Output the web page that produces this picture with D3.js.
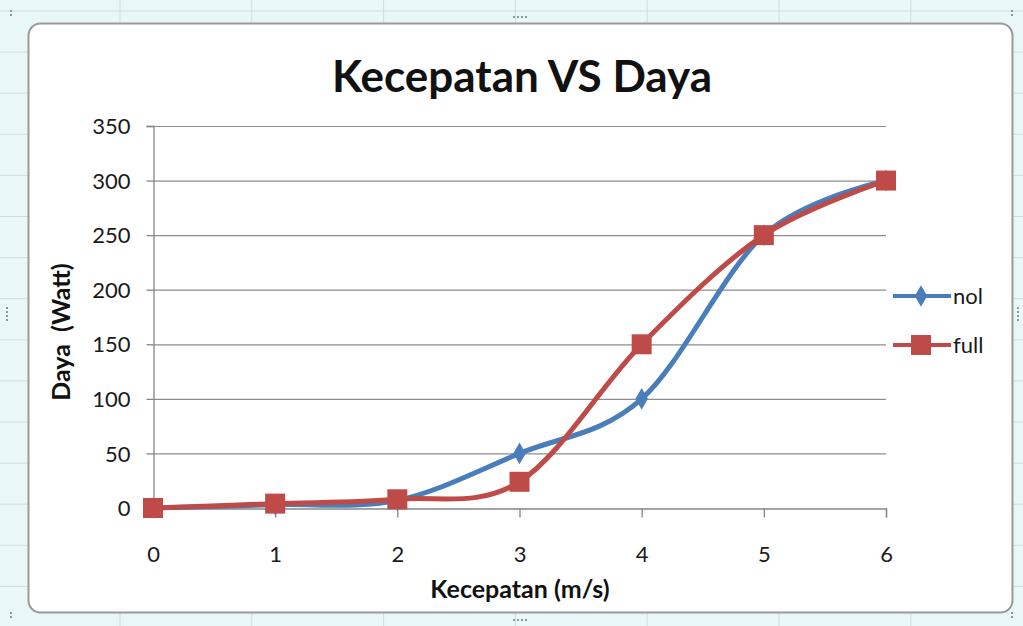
<!DOCTYPE html>
<html>
<head>
<meta charset="utf-8">
<script src="https://cdn.jsdelivr.net/npm/d3@7"></script>
<style>
  body { margin: 0; background: #e9f6f8; }
  svg { display: block; font-family: Lato, "Open Sans", sans-serif; }
  text { white-space: pre; }
</style>
</head>
<body>
<svg id="chart" width="1023" height="626"></svg>
<script>
// data
const speeds = [0, 1, 2, 3, 4, 5, 6];
const nolValues = [0, 3, 7, 50, 100, 250, 300];
const fullValues = [0, 4, 8, 24, 150, 250, 300];
const yTicks = [0, 50, 100, 150, 200, 250, 300, 350];
const seriesNames = ['nol', 'full'];

const W = 1023, H = 626;
const svg = d3.select('#chart');

// spreadsheet behind the chart
const bg = svg.append('g');
bg.append('rect').attr('width', W).attr('height', H).attr('fill', '#eaf7f9');
d3.range(120, W, 131.8).forEach(x => {
    bg.append('line').attr('x1', x).attr('x2', x).attr('y1', 0).attr('y2', H)
        .attr('stroke', '#cadee1');
});
d3.range(11, H, 41.1).forEach(y => {
    bg.append('line').attr('x1', 0).attr('x2', W).attr('y1', y).attr('y2', y)
        .attr('stroke', '#cadee1');
});

// chart area
svg.append('rect')
    .attr('x', 28.5).attr('y', 23.5).attr('width', 984).attr('height', 589)
    .attr('rx', 12).attr('fill', '#fff')
    .attr('stroke', '#9a9a9a').attr('stroke-width', 2);

// resize handles
const handles = [[12, 16], [W - 10, 16], [12, H - 8], [W - 10, H - 8], [521, 17], [521, H - 6], [8, 313], [W - 4, 313]];
handles.forEach(([x, y], i) => {
    const horiz = i >= 4 && i < 6;
    const n = i < 4 ? 2 : 4;
    d3.range(n).forEach(k => {
        svg.append('rect')
            .attr('x', horiz ? x - 8 + k * 4 : x - 2)
            .attr('y', horiz ? y - 1 : y - 6 + k * 4)
            .attr('width', 2).attr('height', 2).attr('fill', '#8a9a9c');
    });
});

const x = d3.scaleLinear().domain([0, 6]).range([153, 886]);
const y = d3.scaleLinear().domain([0, 350]).range([508, 126]);

// gridlines
svg.append('g').selectAll('line')
    .data(yTicks.filter(d => d > 0))
    .join('line')
    .attr('x1', x(0)).attr('x2', x(6))
    .attr('y1', d => y(d) + 0.5).attr('y2', d => y(d) + 0.5)
    .attr('stroke', '#8c8c8c').attr('stroke-width', 1.2);

// axes
const yAxis = svg.append('g')
    .attr('transform', `translate(${x(0) + 0.5},0)`)
    .call(d3.axisLeft(y).tickValues(yTicks).tickSize(7).tickPadding(16));
const xAxis = svg.append('g')
    .attr('transform', `translate(0,${y(0) + 0.5})`)
    .call(d3.axisBottom(x).tickValues(speeds).tickFormat(d3.format('d')).tickSize(9).tickPadding(37));
[xAxis, yAxis].forEach(a => {
    a.select('.domain').attr('stroke', '#868686').attr('stroke-width', 1.3);
    a.selectAll('.tick line').attr('stroke', '#868686').attr('stroke-width', 1.3);
    a.selectAll('.tick text').attr('font-size', 22).attr('fill', '#1a1a1a')
        .attr('font-family', 'Lato, sans-serif');
});
yAxis.selectAll('.tick text').attr('dy', '0.35em');
xAxis.selectAll('.tick text').attr('dy', '0.35em');

// titles
svg.append('text').attr('x', 522).attr('y', 92).attr('text-anchor', 'middle')
    .attr('font-size', 44).attr('font-weight', 'bold').attr('fill', '#111')
    .text('Kecepatan VS Daya');
svg.append('text').attr('x', 520).attr('y', 598).attr('text-anchor', 'middle')
    .attr('font-size', 25).attr('font-weight', 'bold').attr('fill', '#111')
    .text('Kecepatan (m/s)');
svg.append('text').attr('transform', 'translate(70,332) rotate(-90)')
    .attr('text-anchor', 'middle')
    .attr('font-size', 25).attr('font-weight', 'bold').attr('fill', '#111')
    .text('Daya  (Watt)');

const colors = { nol: '#4a7ebb', full: '#be4b48' };
const line = d3.line()
    .x((d, i) => x(speeds[i]))
    .y(d => y(d))
    .curve(d3.curveCardinal.tension(0));

const diamond = d3.symbol().type(d3.symbolDiamond).size(135);

function drawSeries(vals, name) {
    const g = svg.append('g');
    g.append('path').datum(vals)
        .attr('d', line).attr('fill', 'none')
        .attr('stroke', colors[name]).attr('stroke-width', 5)
        .attr('stroke-linejoin', 'round').attr('stroke-linecap', 'round');
    if (name === 'nol') {
        g.selectAll('path.m').data(vals).join('path').attr('class', 'm')
            .attr('d', diamond)
            .attr('transform', (d, i) => `translate(${x(speeds[i])},${y(d)})`)
            .attr('fill', colors[name]);
    } else {
        g.selectAll('rect').data(vals).join('rect')
            .attr('x', (d, i) => x(speeds[i]) - 10).attr('y', d => y(d) - 10)
            .attr('width', 20).attr('height', 20)
            .attr('fill', colors[name]);
    }
}
drawSeries(nolValues, 'nol');
drawSeries(fullValues, 'full');

// legend
const legend = svg.append('g');
seriesNames.forEach((name, i) => {
    const ly = 296 + i * 49;
    legend.append('line').attr('x1', 893).attr('x2', 951).attr('y1', ly).attr('y2', ly)
        .attr('stroke', colors[name]).attr('stroke-width', 4);
    if (name === 'nol') {
        legend.append('path').attr('d', diamond)
            .attr('transform', `translate(921,${ly})`).attr('fill', colors[name]);
    } else {
        legend.append('rect').attr('x', 911).attr('y', ly - 10)
            .attr('width', 20).attr('height', 20).attr('fill', colors[name]);
    }
    legend.append('text').attr('x', 953).attr('y', ly).attr('dy', '0.35em')
        .attr('font-size', 22).attr('fill', '#1a1a1a').text(name);
});
</script>
</body>
</html>
